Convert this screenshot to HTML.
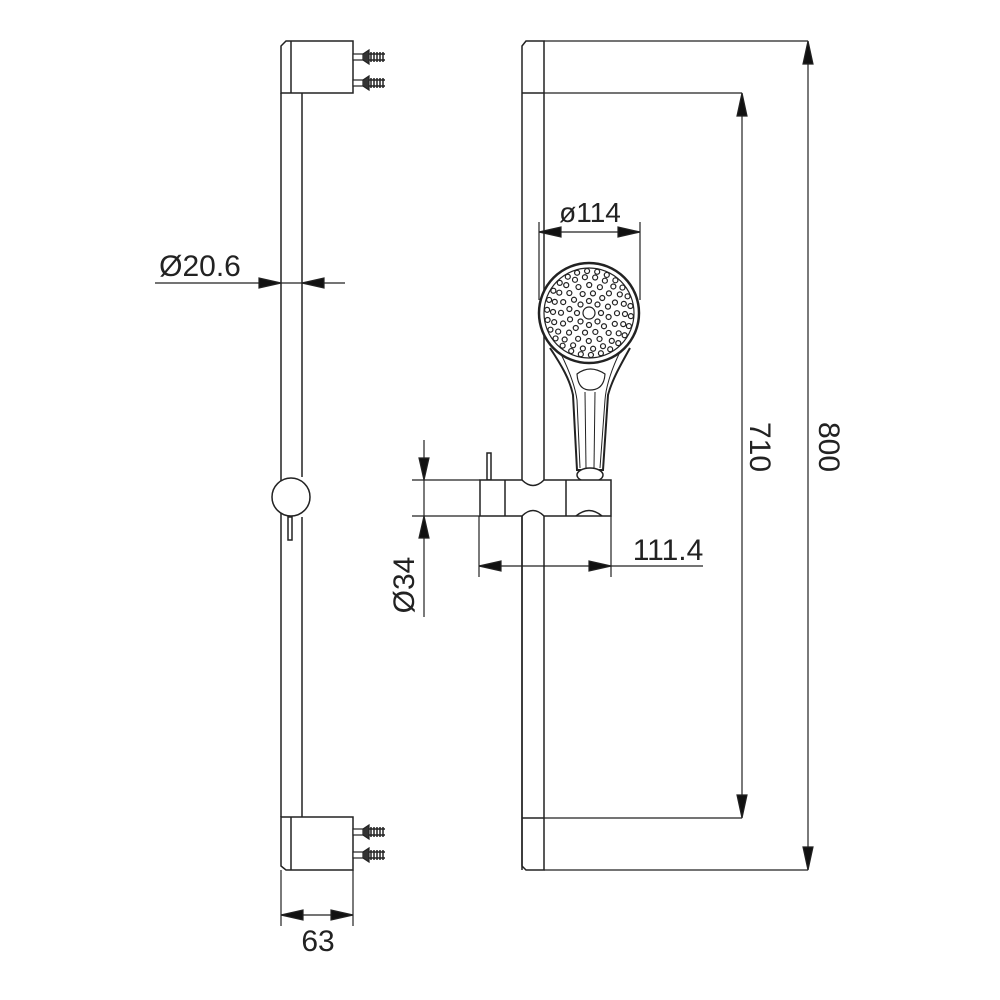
<!DOCTYPE html>
<html><head><meta charset="utf-8"><style>
html,body{margin:0;padding:0;background:#fff;}
svg{display:block}
text{font-family:"Liberation Sans",sans-serif;fill:#222;}
</style></head><body>
<svg width="1000" height="1000" viewBox="0 0 1000 1000" xmlns="http://www.w3.org/2000/svg">
<defs>
<g id="screw" stroke="#222" fill="none" stroke-width="1.2">
<rect x="0" y="-3" width="10" height="6" fill="#fff"/>
<path d="M10,-3 L16,-7 L16,7 L10,3" fill="#333"/>
<path d="M16,-3 L32,-3 M16,3 L32,3" stroke-width="1.5"/>
<path d="M18,-5 L18,5 M21,-5 L21,5 M24,-5 L24,5 M27,-5 L27,5 M30,-5 L30,5" stroke-width="1.5"/>
</g>
</defs>
<g stroke="#222" stroke-width="1.5" fill="none">
<line x1="281" y1="93" x2="281" y2="817"/>
<line x1="302" y1="93" x2="302" y2="477"/>
<line x1="302" y1="517" x2="302" y2="817"/>
<path d="M281,93 L281,46 L286,41 L353,41 L353,93 Z" fill="#fff"/>
<line x1="291" y1="41" x2="291" y2="93"/>
<path d="M281,817 L353,817 L353,870 L286,870 L281,866 Z" fill="#fff"/>
<line x1="291" y1="817" x2="291" y2="870"/>
<circle cx="291" cy="497" r="19" fill="#fff"/>
<rect x="288" y="517" width="4" height="23" fill="#fff"/>
</g>
<use href="#screw" x="353" y="57"/>
<use href="#screw" x="353" y="83"/>
<use href="#screw" x="353" y="832"/>
<use href="#screw" x="353" y="855"/>

<g stroke="#222" stroke-width="1.2" fill="#111">
<line x1="155" y1="283" x2="345" y2="283"/>
<path d="M281,283 L259,278 L259,288 Z"/>
<path d="M302,283 L324,278 L324,288 Z"/>
<line x1="281" y1="870" x2="281" y2="926"/>
<line x1="353" y1="870" x2="353" y2="926"/>
<line x1="281" y1="915" x2="353" y2="915"/>
<path d="M281,915 L303,910 L303,920 Z"/>
<path d="M353,915 L331,910 L331,920 Z"/>
</g>
<text x="200" y="276" font-size="30" text-anchor="middle">Ø20.6</text>
<text x="318" y="951" font-size="30" text-anchor="middle">63</text>

<g stroke="#222" stroke-width="1.5" fill="none">
<path d="M522,46 L526,41 L544,41 L544,870 L526,870 L522,866 Z"/>
<line x1="522" y1="93" x2="544" y2="93"/>
<line x1="522" y1="818" x2="544" y2="818"/>
</g>
<g stroke="#222" stroke-width="1.2" fill="#111">
<line x1="544" y1="41" x2="808" y2="41"/>
<line x1="544" y1="870" x2="808" y2="870"/>
<line x1="808" y1="41" x2="808" y2="870"/>
<path d="M808,41 L803,64 L813,64 Z"/>
<path d="M808,870 L803,847 L813,847 Z"/>
<line x1="544" y1="93" x2="742" y2="93"/>
<line x1="544" y1="818" x2="742" y2="818"/>
<line x1="742" y1="93" x2="742" y2="818"/>
<path d="M742,93 L737,116 L747,116 Z"/>
<path d="M742,818 L737,795 L747,795 Z"/>
</g>
<text font-size="30" text-anchor="middle" transform="translate(750,447) rotate(90)">710</text>
<text font-size="30" text-anchor="middle" transform="translate(819,447) rotate(90)">800</text>

<g stroke="#222" fill="#fff">
<path d="M550,348 C562,366 570,380 573,395 L577,470 L603,470 L608,395 C612,380 620,366 630,348" stroke-width="2"/>
<path d="M560,352 C567,366 575,385 577,400 L580,468 M620,352 C613,366 606,385 605,400 L600,468" stroke-width="1" fill="none"/>
<path d="M577,374 Q590,364 605,374 Q604,390 590,390 Q578,390 577,374 Z" stroke-width="1.2"/>
<line x1="585" y1="392" x2="586" y2="468" stroke-width="1"/>
<line x1="595" y1="392" x2="594" y2="468" stroke-width="1"/>
<circle cx="589" cy="313" r="50" stroke-width="2.5"/>
<circle cx="589" cy="313" r="45" stroke-width="1.2"/>
<circle cx="589" cy="313" r="6" stroke-width="1.2"/>
<g id="holes" stroke-width="1.2"></g>
<ellipse cx="590" cy="475" rx="13" ry="7" stroke-width="1.5"/>
</g>

<g stroke="#222" stroke-width="1.5" fill="#fff">
<rect x="487" y="453" width="4" height="27"/>
<path d="M480,480 L522,480 Q533,491 544,480 L611,480 L611,516 L544,516 Q533,505 522,516 L480,516 Z"/>
<line x1="505" y1="480" x2="505" y2="516"/>
<line x1="566" y1="480" x2="566" y2="516"/>
<path d="M576,516 Q589,505 602,516" fill="none"/>
</g>
<line x1="522" y1="516" x2="522" y2="870" stroke="#222" stroke-width="1.5"/>

<g stroke="#222" stroke-width="1.2" fill="#111">
<line x1="539" y1="222" x2="539" y2="300"/>
<line x1="640" y1="222" x2="640" y2="300"/>
<line x1="539" y1="232" x2="640" y2="232"/>
<path d="M539,232 L561,227 L561,237 Z"/>
<path d="M640,232 L618,227 L618,237 Z"/>
<line x1="412" y1="480" x2="480" y2="480"/>
<line x1="412" y1="516" x2="480" y2="516"/>
<line x1="424" y1="440" x2="424" y2="617"/>
<path d="M424,480 L419,458 L429,458 Z"/>
<path d="M424,516 L419,538 L429,538 Z"/>
<line x1="479" y1="516" x2="479" y2="577"/>
<line x1="611" y1="516" x2="611" y2="577"/>
<line x1="479" y1="566" x2="703" y2="566"/>
<path d="M479,566 L501,561 L501,571 Z"/>
<path d="M611,566 L589,561 L589,571 Z"/>
</g>
<text x="590" y="222" font-size="28" text-anchor="middle">ø114</text>
<text x="668" y="560" font-size="30" text-anchor="middle">111.4</text>
<text font-size="30" text-anchor="middle" transform="translate(414,585) rotate(-90)">Ø34</text>
</svg>
<script>
var g=document.getElementById('holes'),ns='http://www.w3.org/2000/svg';
var rings=[[12,8],[20,12],[28,16],[36,22],[42,26]];
rings.forEach(function(r,i){for(var k=0;k<r[1];k++){var a=2*Math.PI*k/r[1]+i*0.2;var c=document.createElementNS(ns,'circle');c.setAttribute('cx',589+r[0]*Math.cos(a));c.setAttribute('cy',313+r[0]*Math.sin(a));c.setAttribute('r',2.5);g.appendChild(c);}});
</script>
</body></html>
